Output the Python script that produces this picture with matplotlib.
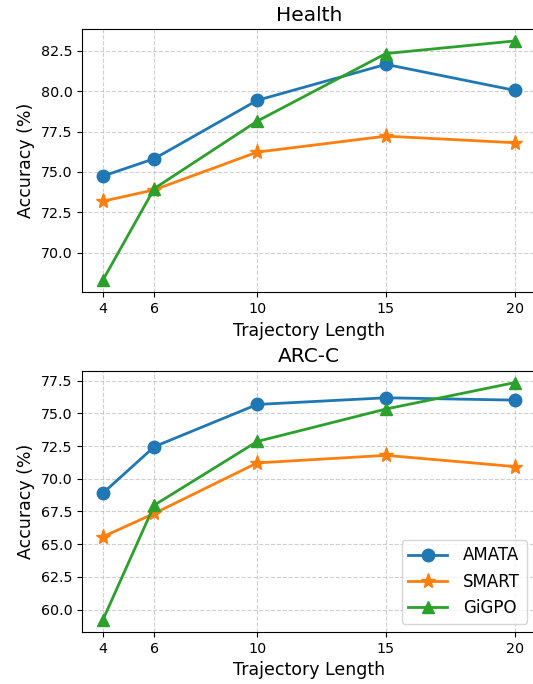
import matplotlib
matplotlib.use("Agg")
import matplotlib.pyplot as plt
from matplotlib.ticker import MultipleLocator

traj_lengths = [4, 6, 10, 15, 20]
methods = ["AMATA", "SMART", "GiGPO"]

health_amata = [74.74, 75.82, 79.44, 81.67, 80.06]
health_smart = [73.18, 73.89, 76.23, 77.22, 76.81]
health_gigpo = [68.28, 73.97, 78.15, 82.34, 83.12]

arc_amata = [68.89, 72.45, 75.68, 76.19, 76.01]
arc_smart = [65.56, 67.35, 71.21, 71.79, 70.93]
arc_gigpo = [59.19, 67.98, 72.85, 75.33, 77.35]

colors = ["#1f77b4", "#ff7f0e", "#2ca02c"]
markers = ["o", "*", "^"]
msizes = [9, 11, 9]

fig = plt.figure(figsize=(5.33, 6.84), dpi=100)
ax1 = fig.add_axes([0.1542, 0.5727, 0.850, 0.3849])
ax2 = fig.add_axes([0.1542, 0.0760, 0.850, 0.3820])

panels = [
    (ax1, "Health", [health_amata, health_smart, health_gigpo]),
    (ax2, "ARC-C", [arc_amata, arc_smart, arc_gigpo]),
]

for ax, title, series in panels:
    for name, vals, c, m, ms in zip(methods, series, colors, markers, msizes):
        ax.plot(traj_lengths, vals, color=c, marker=m, markersize=ms,
                linewidth=2, label=name)
    ax.set_title(title, fontsize=14.5)
    ax.set_xlabel("Trajectory Length", fontsize=12.5)
    ax.set_ylabel("Accuracy (%)", fontsize=12.5)
    ax.set_xticks(traj_lengths)
    ax.yaxis.set_major_locator(MultipleLocator(2.5))
    ax.yaxis.set_major_formatter(plt.FormatStrFormatter("%.1f"))
    ax.tick_params(labelsize=10.3)
    ax.grid(True, linestyle="--", alpha=0.6)

ax2.legend(loc="lower right", fontsize=12, handlelength=2.3, handletextpad=1.0)

fig.savefig("out.png", dpi=100)
